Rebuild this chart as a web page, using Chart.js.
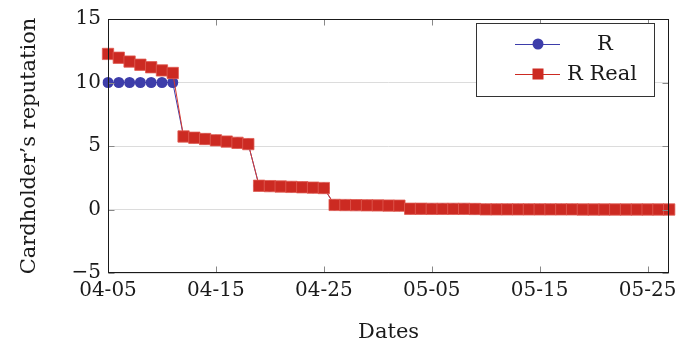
<!DOCTYPE html>
<html>
<head>
<meta charset="utf-8">
<script src="https://cdn.jsdelivr.net/npm/chart.js@4.4.1/dist/chart.umd.min.js"></script>
<style>
  html, body { margin: 0; padding: 0; background: #fff; }
  #wrap { width: 678px; height: 345px; position: relative; }
</style>
</head>
<body>
<div id="wrap"><canvas id="repChart"></canvas></div>
<script>
/* ── data ── */
const dates = [
  '04-05','04-06','04-07','04-08','04-09','04-10','04-11','04-12','04-13','04-14',
  '04-15','04-16','04-17','04-18','04-19','04-20','04-21','04-22','04-23','04-24',
  '04-25','04-26','04-27','04-28','04-29','04-30','05-01','05-02','05-03','05-04',
  '05-05','05-06','05-07','05-08','05-09','05-10','05-11','05-12','05-13','05-14',
  '05-15','05-16','05-17','05-18','05-19','05-20','05-21','05-22','05-23','05-24',
  '05-25','05-26','05-27'
];

const rValues = [
  10, 10, 10, 10, 10, 10, 10,
  5.75, 5.65, 5.55, 5.45, 5.35, 5.25, 5.15,
  1.87, 1.84, 1.81, 1.78, 1.75, 1.72, 1.69,
  0.36, 0.35, 0.34, 0.33, 0.32, 0.31, 0.30,
  0.06, 0.06, 0.05, 0.05, 0.05, 0.05, 0.04,
  0.01, 0.01, 0.01, 0.01, 0.01, 0.01, 0.01, 0.01, 0.01,
  0, 0, 0, 0, 0, 0, 0, 0, 0
];

const rRealValues = [
  12.25, 11.95, 11.65, 11.4, 11.2, 10.95, 10.75,
  5.75, 5.65, 5.55, 5.45, 5.35, 5.25, 5.15,
  1.87, 1.84, 1.81, 1.78, 1.75, 1.72, 1.69,
  0.36, 0.35, 0.34, 0.33, 0.32, 0.31, 0.30,
  0.06, 0.06, 0.05, 0.05, 0.05, 0.05, 0.04,
  0.01, 0.01, 0.01, 0.01, 0.01, 0.01, 0.01, 0.01, 0.01,
  0, 0, 0, 0, 0, 0, 0, 0, 0
];

const xTickEvery = 10;
const yTicks = [-5, 0, 5, 10, 15];

const FONT = "'DejaVu Serif', serif";
const BLUE = '#3d3daa';
const RED = '#cc2a22';

/* ── frame, inward ticks, legend box ── */
const framePlugin = {
  id: 'frame',
  afterDraw(chart) {
    const { ctx, chartArea: ca, scales } = chart;
    const L = Math.round(ca.left) + 0.5, R = Math.round(ca.right) - 0.5;
    const T = Math.round(ca.top) + 0.5, B = Math.round(ca.bottom) - 0.5;
    ctx.save();
    ctx.lineWidth = 1;
    ctx.strokeStyle = '#888';
    ctx.beginPath();
    for (let i = 0; i < dates.length; i += xTickEvery) {
      const x = Math.round(scales.x.getPixelForValue(i)) + 0.5;
      ctx.moveTo(x, B); ctx.lineTo(x, B - 6);
      ctx.moveTo(x, T); ctx.lineTo(x, T + 6);
    }
    yTicks.forEach(v => {
      const y = Math.round(scales.y.getPixelForValue(v)) + 0.5;
      ctx.moveTo(L, y); ctx.lineTo(L + 6, y);
      ctx.moveTo(R, y); ctx.lineTo(R - 6, y);
    });
    ctx.stroke();

    ctx.strokeStyle = '#1a1a1a';
    ctx.strokeRect(L, T, R - L, B - T);

    // legend
    const bx = 476.5, by = 23.5, bw = 178, bh = 73;
    ctx.fillStyle = '#fff';
    ctx.fillRect(bx, by, bw, bh);
    ctx.strokeStyle = '#333';
    ctx.strokeRect(bx, by, bw, bh);

    const rows = [
      { label: 'R', color: BLUE, shape: 'circle', y: 44 },
      { label: 'R Real', color: RED, shape: 'rect', y: 74 },
    ];
    rows.forEach(r => {
      ctx.strokeStyle = r.color;
      ctx.beginPath();
      ctx.moveTo(515, r.y + 0.5); ctx.lineTo(560, r.y + 0.5);
      ctx.stroke();
      ctx.fillStyle = r.color;
      if (r.shape === 'circle') {
        ctx.beginPath(); ctx.arc(538, r.y, 5.5, 0, Math.PI * 2); ctx.fill();
      } else {
        ctx.fillRect(532.5, r.y - 5.5, 11, 11);
      }
    });
    ctx.fillStyle = '#1a1a1a';
    ctx.font = "21px " + FONT;
    ctx.textBaseline = 'middle';
    ctx.textAlign = 'center';
    ctx.fillText('R', 605, 45);
    ctx.textAlign = 'left';
    ctx.fillText('R Real', 567, 75);
    ctx.restore();
  }
};

new Chart(document.getElementById('repChart'), {
  type: 'line',
  data: {
    labels: dates,
    datasets: [
      {
        label: 'R',
        data: rValues,
        borderColor: BLUE,
        backgroundColor: BLUE,
        borderWidth: 1,
        pointStyle: 'circle',
        pointRadius: 5.5,
        pointBorderWidth: 0,
        tension: 0,
        order: 2,
      },
      {
        label: 'R Real',
        data: rRealValues,
        borderColor: '#d63a30',
        backgroundColor: RED,
        borderWidth: 1,
        pointStyle: 'rect',
        pointRadius: 8,
        pointBorderWidth: 0.8,
        pointBorderColor: '#e05a50',
        tension: 0,
        order: 1,
      }
    ]
  },
  options: {
    responsive: true,
    maintainAspectRatio: false,
    animation: false,
    layout: { padding: { left: 0, right: 2, top: 16, bottom: 0 } },
    plugins: {
      legend: { display: false },
      tooltip: { enabled: false }
    },
    scales: {
      x: {
        type: 'category',
        offset: false,
        grid: { display: false, drawTicks: false },
        border: { display: false },
        ticks: {
          autoSkip: false,
          maxRotation: 0,
          padding: 6,
          color: '#1a1a1a',
          font: { family: FONT, size: 20 },
          callback: (v, i) => i % xTickEvery === 0 ? dates[i] : ''
        },
        title: {
          display: true, text: 'Dates', color: '#1a1a1a',
          font: { family: FONT, size: 21 },
          padding: { top: 3, bottom: 0 }
        },
        afterFit: s => { s.height = 72; }
      },
      y: {
        min: -5, max: 15,
        grid: { color: '#dcdcdc', lineWidth: 1, drawTicks: false },
        border: { display: false },
        ticks: {
          stepSize: 5,
          padding: 7,
          color: '#1a1a1a',
          font: { family: FONT, size: 20 },
          callback: v => v < 0 ? '\u2212' + Math.abs(v) : String(v)
        },
        title: {
          display: true, text: 'Cardholder\u2019s reputation', color: '#1a1a1a',
          font: { family: FONT, size: 21 },
          padding: { top: 17, bottom: 0 }
        },
        afterFit: s => { s.width = 108; }
      }
    }
  },
  plugins: [framePlugin]
});
</script>
</body>
</html>
